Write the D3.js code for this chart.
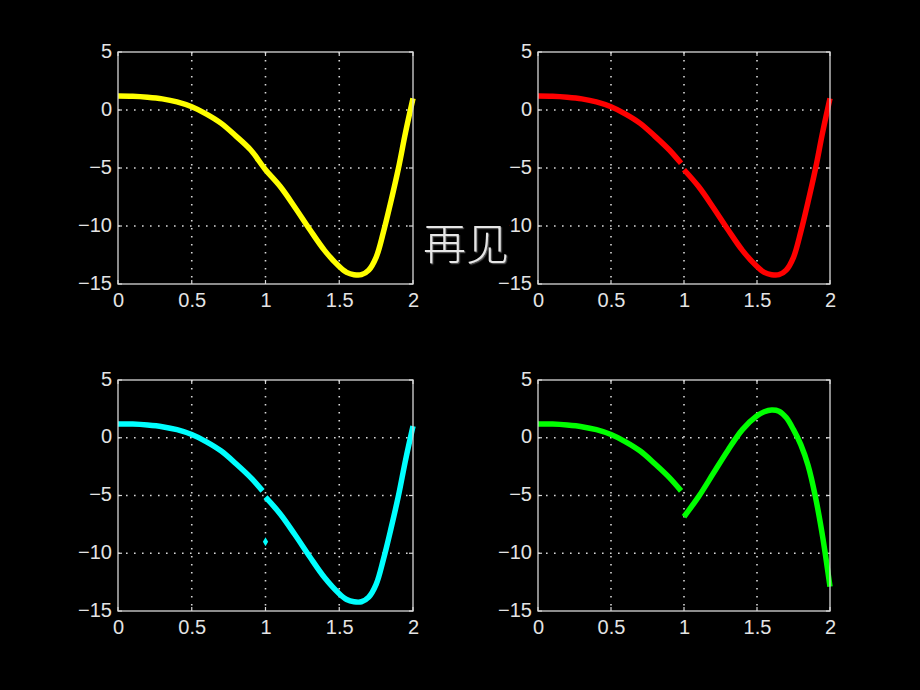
<!DOCTYPE html>
<html>
<head>
<meta charset="utf-8">
<script src="https://cdn.jsdelivr.net/npm/d3@7"></script>
<style>
  body { margin: 0; background: #000; }
  svg { display: block; }
</style>
</head>
<body>
<div id="chart"></div>
<script>
// values
var xTicks = [0, 0.5, 1, 1.5, 2]
var yTicks = [5, 0, -5, -10, -15]

// piece for 0 <= x < 1 (same in all four plots)
var xLeft = [0, 0.1, 0.2, 0.3, 0.4, 0.5, 0.6, 0.7, 0.8, 0.9, 0.98]
var yLeft = [1.2, 1.18, 1.1, 0.96, 0.7, 0.28, -0.35, -1.15, -2.25, -3.45, -4.6]

// piece for 1 <= x <= 2
var xRight = [1.0, 1.1, 1.2, 1.3, 1.4, 1.5, 1.55, 1.6, 1.65, 1.7, 1.75, 1.8, 1.85, 1.9, 1.95, 2.0]
var yRight = [-5.15, -6.6, -8.4, -10.3, -12.1, -13.5, -14.0, -14.2, -14.2, -13.8, -12.7, -10.5, -7.9, -5.1, -1.9, 1.0]
var yRightGreen = [-6.84, -5.1, -3.1, -1.1, 0.7, 1.9, 2.25, 2.4, 2.3, 1.75, 0.7, -0.6, -2.4, -5.1, -8.6, -12.9]

// single point drawn in the cyan plot
var cyanPoint = [1, -9]

var svgWidth = 920,
    svgHeight = 690

var svg = d3.select("#chart").append("svg")
    .attr("width", svgWidth)
    .attr("height", svgHeight)

svg.append("rect").attr("width", svgWidth).attr("height", svgHeight).attr("fill", "#000")

function pts(xs, ys) {
    return xs.map(function(x, i) { return [x, ys[i]]; })
}

// the yellow plot joins both pieces into one curve
var joined = pts(xLeft.slice(0, -1), yLeft.slice(0, -1)).concat(pts(xRight, yRight))

var panels = [
    {left: 118, top: 52, width: 295, height: 232, color: "#ffff00",
        lines: [joined], dots: []},
    {left: 538, top: 52, width: 292, height: 232, color: "#ff0000",
        lines: [pts(xLeft, yLeft), pts(xRight, yRight)], dots: []},
    {left: 118, top: 380, width: 295, height: 231, color: "#00ffff",
        lines: [pts(xLeft, yLeft), pts(xRight, yRight)], dots: [cyanPoint]},
    {left: 538, top: 380, width: 292, height: 231, color: "#00ff00",
        lines: [pts(xLeft, yLeft), pts(xRight, yRightGreen)], dots: []}
]

var gridColor = "#d8d8d8",
    textColor = "#e4e4e4"

panels.forEach(function(p) {
    var g = svg.append("g").attr("transform", `translate(${p.left}, ${p.top})`)

    var xScale = d3.scaleLinear().domain([0, 2]).range([0, p.width])
    var yScale = d3.scaleLinear().domain([-15, 5]).range([p.height, 0])

    // dotted grid on the inner ticks
    g.append("g").selectAll("line")
        .data(xTicks.slice(1, -1))
        .enter().append("line")
            .attr("x1", function(d) { return xScale(d); })
            .attr("x2", function(d) { return xScale(d); })
            .attr("y1", 0).attr("y2", p.height)
            .attr("stroke", gridColor)
            .attr("stroke-width", 1.6)
            .attr("stroke-dasharray", "1.6,6.4")
    g.append("g").selectAll("line")
        .data(yTicks.slice(1, -1))
        .enter().append("line")
            .attr("y1", function(d) { return yScale(d); })
            .attr("y2", function(d) { return yScale(d); })
            .attr("x1", 0).attr("x2", p.width)
            .attr("stroke", gridColor)
            .attr("stroke-width", 1.6)
            .attr("stroke-dasharray", "1.6,6.4")

    // tick labels via axes
    var xAxis = g.append("g")
        .attr("transform", `translate(0, ${p.height})`)
        .call(d3.axisBottom(xScale).tickValues(xTicks).tickSize(0).tickPadding(9).tickFormat(d3.format("")))
    var yAxis = g.append("g")
        .call(d3.axisLeft(yScale).tickValues(yTicks).tickSize(0).tickPadding(6).tickFormat(d3.format("")))
    yAxis.selectAll("text").attr("dy", "0.26em")
    ;[xAxis, yAxis].forEach(function(a) {
        a.select(".domain").remove()
        a.selectAll("text")
            .attr("fill", textColor)
            .attr("font-family", "Liberation Sans, Arial, sans-serif")
            .attr("font-size", 20)
    })

    // small inward ticks on all four sides
    var tk = 4
    var tg = g.append("g").attr("stroke", gridColor).attr("stroke-width", 1.2)
    xTicks.forEach(function(d) {
        tg.append("line").attr("x1", xScale(d)).attr("x2", xScale(d)).attr("y1", p.height).attr("y2", p.height - tk)
        tg.append("line").attr("x1", xScale(d)).attr("x2", xScale(d)).attr("y1", 0).attr("y2", tk)
    })
    yTicks.forEach(function(d) {
        tg.append("line").attr("y1", yScale(d)).attr("y2", yScale(d)).attr("x1", 0).attr("x2", tk)
        tg.append("line").attr("y1", yScale(d)).attr("y2", yScale(d)).attr("x1", p.width).attr("x2", p.width - tk)
    })

    // the curves
    var line = d3.line()
        .x(function(d) { return xScale(d[0]); })
        .y(function(d) { return yScale(d[1]); })
        .curve(d3.curveCatmullRom.alpha(0.5))

    g.append("g").selectAll("path")
        .data(p.lines)
        .enter().append("path")
            .attr("d", line)
            .attr("fill", "none")
            .attr("stroke", p.color)
            .attr("stroke-width", 5.5)
            .attr("stroke-linejoin", "round")

    g.append("g").selectAll("path")
        .data(p.dots)
        .enter().append("path")
            .attr("transform", function(d) { return `translate(${xScale(d[0])}, ${yScale(d[1])})`; })
            .attr("d", d3.symbol(d3.symbolDiamond, 24))
            .attr("fill", p.color)

    // box
    g.append("rect")
        .attr("width", p.width)
        .attr("height", p.height)
        .attr("fill", "none")
        .attr("stroke", gridColor)
        .attr("stroke-width", 1.3)
})

// the caption in the middle, with a slight shadow, over a black patch
var defs = svg.append("defs")
defs.append("filter").attr("id", "shade")
    .append("feDropShadow")
        .attr("dx", 1.2).attr("dy", 1.2)
        .attr("stdDeviation", 0.6)
        .attr("flood-color", "#555")

svg.append("rect")
    .attr("x", 419).attr("y", 222)
    .attr("width", 90).attr("height", 46)
    .attr("fill", "#000")

svg.append("text")
    .attr("x", 466).attr("y", 245)
    .attr("dy", "0.35em")
    .attr("text-anchor", "middle")
    .attr("font-family", "Noto Sans CJK SC, sans-serif")
    .attr("font-size", 43)
    .attr("font-weight", 300)
    .attr("fill", "#e6e6e6")
    .attr("filter", "url(#shade)")
    .text("再见")
</script>
</body>
</html>
